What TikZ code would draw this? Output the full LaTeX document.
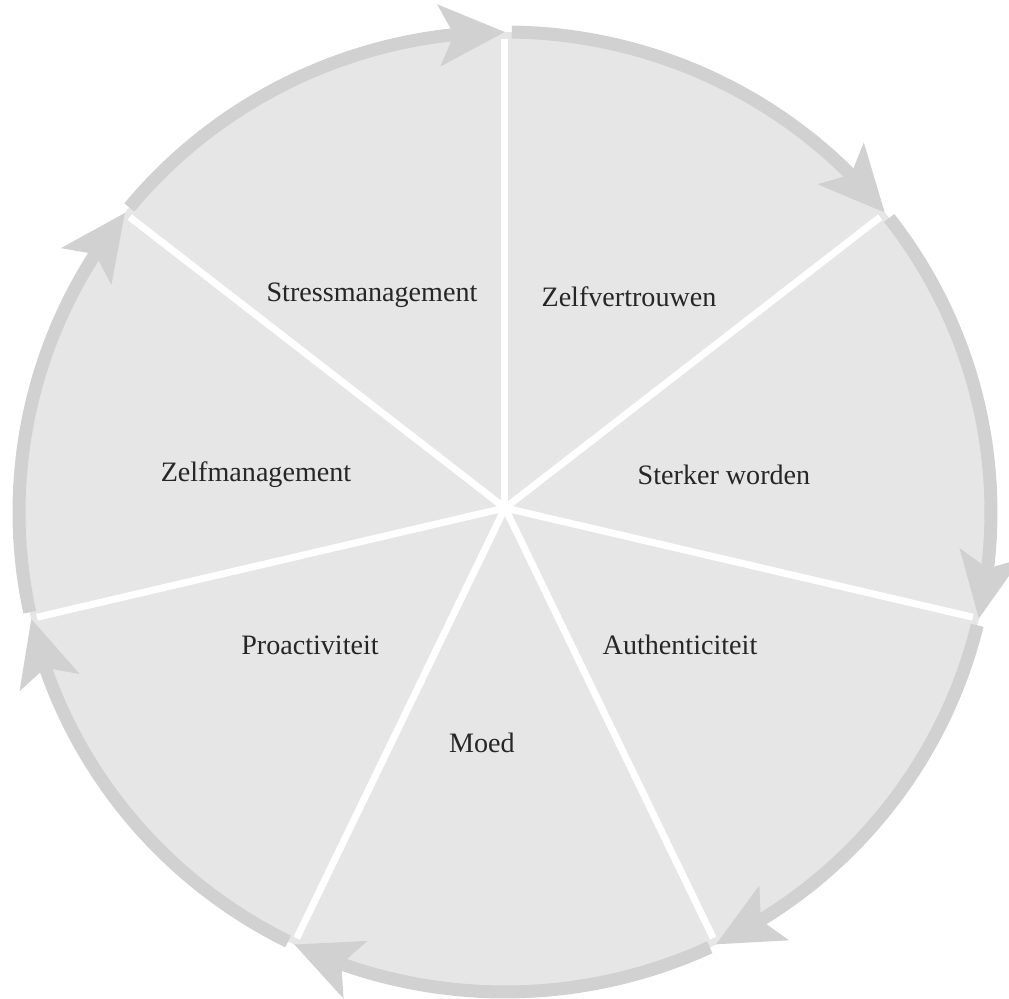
\documentclass[tikz,border=0pt]{standalone}
\usepackage{fontspec}
\setmainfont{Liberation Serif}
\usepackage{tikz}
\usetikzlibrary{arrows.meta, bending}
\definecolor{wheelfill}{RGB}{230,230,230}
\definecolor{wheelring}{RGB}{209,209,209}

\begin{document}
\begin{tikzpicture}[
    x=0.02cm, y=0.02cm,
    >={Stealth[length=1.3cm, width=1.2cm, inset=0.28cm]},
    ringarc/.style={
        draw=wheelring, line width=0.26cm, ->
    },
    divider/.style={
        draw=white, line width=0.14cm
    },
    segment/.style={
        font=\fontsize{16}{19}\selectfont, text=black!85, inner sep=0pt
    },
]
\useasboundingbox (-505,-487) rectangle (504,512);

% ── Wheel body ──
\fill[wheelfill] (0,0) ellipse [x radius=486, y radius=480];

\coordinate (apex) at (0,4);
\coordinate (b0) at (90:480 and 473);
\coordinate (b1) at (38.571:480 and 473);
\coordinate (b2) at (-12.857:480 and 473);
\coordinate (b3) at (-64.286:480 and 473);
\coordinate (b4) at (-115.714:480 and 473);
\coordinate (b5) at (-167.143:480 and 473);
\coordinate (b6) at (141.429:480 and 473);

% ── Dividers ──
\draw[divider] (apex) -- (b0);
\draw[divider] (apex) -- (b1);
\draw[divider] (apex) -- (b2);
\draw[divider] (apex) -- (b3);
\draw[divider] (apex) -- (b4);
\draw[divider] (apex) -- (b5);
\draw[divider] (apex) -- (b6);

% ── Ring arrows (clockwise) ──
\draw[ringarc] (89.2:486 and 480) arc[start angle=89.2, end angle=38.571, x radius=486, y radius=480];
\draw[ringarc] (37.771:486 and 480) arc[start angle=37.771, end angle=-12.857, x radius=486, y radius=480];
\draw[ringarc] (-13.657:486 and 480) arc[start angle=-13.657, end angle=-64.286, x radius=486, y radius=480];
\draw[ringarc] (-65.086:486 and 480) arc[start angle=-65.086, end angle=-115.714, x radius=486, y radius=480];
\draw[ringarc] (-116.514:486 and 480) arc[start angle=-116.514, end angle=-167.143, x radius=486, y radius=480];
\draw[ringarc] (-167.943:486 and 480) arc[start angle=-167.943, end angle=-218.571, x radius=486, y radius=480];
\draw[ringarc] (140.629:486 and 480) arc[start angle=140.629, end angle=90, x radius=486, y radius=480];

% ── Labels ──
\node[segment] (stress)    at (-133,217) {Stressmanagement};
\node[segment] (vertrouwen) at (124,215) {Zelfvertrouwen};
\node[segment] (sterker)   at (219,37)   {Sterker worden};
\node[segment] (zelfman)   at (-249,37)  {Zelfmanagement};
\node[segment] (authentic) at (175,-133) {Authenticiteit};
\node[segment] (proactief) at (-195,-133) {Proactiviteit};
\node[segment] (moed)      at (-23,-231) {Moed};

\end{tikzpicture}
\end{document}
